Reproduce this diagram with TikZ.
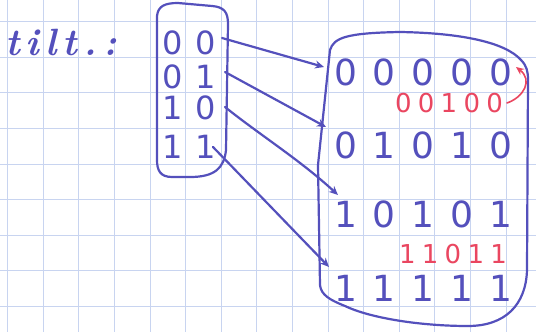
\documentclass[tikz,border=0pt]{standalone}
\usepackage{fontspec}
\setmainfont{Latin Modern Roman}
\newfontfamily\bigdig[LetterSpace=44]{DejaVu Sans}
\newfontfamily\leftdig[LetterSpace=40]{DejaVu Sans}
\newfontfamily\reddig[LetterSpace=24]{DejaVu Sans}
\usetikzlibrary{arrows.meta}
\definecolor{penblue}{RGB}{84,80,188}
\definecolor{penred}{RGB}{234,70,96}
\definecolor{gridc}{RGB}{200,212,240}
\begin{document}
\begin{tikzpicture}[x=1pt,y=-1pt,
  pen/.style={draw=penblue, line width=2.2pt, line cap=round, line join=round},
  redpen/.style={draw=penred, line width=1.6pt, line cap=round},
  arr/.style={pen, -{Stealth[length=9pt,width=8pt]}},
  rarr/.style={redpen, -{Stealth[length=8pt,width=7pt]}},
  rowtxt/.style={anchor=base west, inner sep=0pt, text=penblue, font=\bigdig\fontsize{36}{38}\selectfont},
  lefttxt/.style={anchor=base west, inner sep=0pt, text=penblue, font=\leftdig\fontsize{32}{34}\selectfont},
  redtxt/.style={anchor=base west, inner sep=0pt, text=penred, font=\reddig\fontsize{26}{28}\selectfont}]
\useasboundingbox (0,0) rectangle (536,332);
\fill[white] (0,0) rectangle (536,332);
\foreach \x in {0,...,14} \draw[gridc, line width=0.8pt] ({7.5+35.6*\x},0) -- ++(0,332);
\foreach \y in {0,...,8} \draw[gridc, line width=0.8pt] (0,{21.5+35.6*\y}) -- ++(536,0);

% title
\node[anchor=base west, inner sep=0pt, text=penblue, font=\fontsize{38}{40}\selectfont\bfseries\itshape\addfontfeature{LetterSpace=16}] (title) at (5,55) {tilt.:};

% left box
\draw[pen] (157,16) .. controls (158,6) and (165,3) .. (178,3) -- (212,6) .. controls (224,7) and (228,12) .. (228,24) -- (226,150) .. controls (224,168) and (215,177) .. (190,177) -- (172,177) .. controls (160,177) and (157,170) .. (157,160) -- cycle;

\node[lefttxt] (l00) at (162,54) {00};
\node[lefttxt] (l01) at (162,88) {01};
\node[lefttxt] (l10) at (162,119) {10};
\node[lefttxt] (l11) at (162,158) {11};

% right box
\draw[pen] (330,50) .. controls (334,38) and (345,33) .. (400,32) .. controls (460,33) and (505,42) .. (521,60) .. controls (527,66) and (528,72) .. (528,80) -- (527,270) .. controls (526,305) and (505,326) .. (468,326) .. controls (420,326) and (370,318) .. (345,306) .. controls (330,300) and (321,295) .. (320,285) -- (318,165) -- cycle;

\node[rowtxt] (r1) at (334,85) {00000};
\node[redtxt] (x1) at (395,112) {00100};
\node[rowtxt] (r2) at (334,158) {01010};
\node[rowtxt] (r3) at (334,227) {10101};
\node[redtxt] (x2) at (399,263) {11011};
\node[rowtxt] (r4) at (334,301) {11111};

% arrow end points
\coordinate (s1) at (222,38);
\coordinate (e1) at (324,67);
\coordinate (s2) at (225,72);
\coordinate (e2) at (326,127);
\coordinate (s3) at (225,107);
\coordinate (e3) at (338,195);
\coordinate (s4) at (213,147);
\coordinate (e4) at (329,267);
\coordinate (rs) at (507,103);
\coordinate (re) at (516,67);

\draw[arr] (s1) -- (e1);
\draw[arr] (s2) -- (e2);
\draw[arr] (s3) .. controls (260,135) and (300,160) .. (e3);
\draw[arr] (s4) -- (e4);
\draw[rarr] (rs) .. controls (524,97) and (533,80) .. (re);
\end{tikzpicture}
\end{document}
